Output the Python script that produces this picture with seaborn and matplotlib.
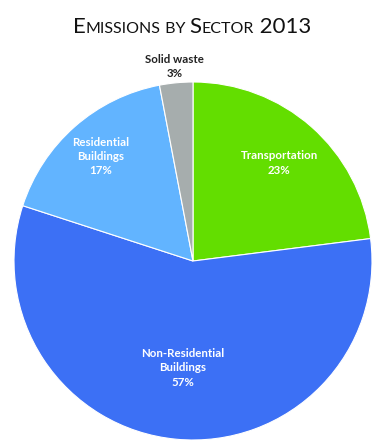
import numpy as np
import matplotlib
matplotlib.use("Agg")
import matplotlib.pyplot as plt
import seaborn as sns

# Data
sectors = ["Transportation", "Non-Residential\nBuildings", "Residential\nBuildings", "Solid waste"]
shares = [23, 57, 17, 3]
colors = ["#63DE00", "#3C70F5", "#62B4FF", "#A6ADAD"]
label_radius = [0.73, 0.60, 0.78, 1.09]
label_colors = ["white", "white", "white", "#222222"]

sns.set_theme(style="white")
plt.rcParams["font.family"] = ["Lato", "DejaVu Sans"]

fig = plt.figure(figsize=(3.84, 4.44), dpi=100)
ax = fig.add_axes([14 / 384, 4 / 444, 358 / 384, 358 / 444])

wedges, _ = ax.pie(shares, colors=colors, startangle=90, counterclock=False,
                   wedgeprops=dict(edgecolor="white", linewidth=0.8))
ax.set_xlim(-1, 1)
ax.set_ylim(-1, 1)
ax.set_aspect("equal")
ax.axis("off")

# labels inside / outside the slices
for w, name, pct, r, c in zip(wedges, sectors, shares, label_radius, label_colors):
    ang = np.deg2rad((w.theta1 + w.theta2) / 2)
    ax.text(r * np.cos(ang), r * np.sin(ang), f"{name}\n{pct}%", ha="center", va="center",
            fontsize=8.3, fontweight="bold", color=c, linespacing=1.35, clip_on=False)

# small caps title
pieces = [("E", 16), ("MISSIONS", 11.5), (" BY ", 11.5), ("S", 16), ("ECTOR", 11.5), (" 2013", 16)]
renderer = fig.canvas.get_renderer()
texts = []
x = 0
for s, size in pieces:
    t = fig.text(x, 1 - 33 / 444, s, fontsize=size, color="#111111", ha="left", va="baseline")
    w = t.get_window_extent(renderer).width / fig.bbox.width
    texts.append((t, w))
    x += w
start = 0.5 - x / 2
for t, w in texts:
    t.set_x(t.get_position()[0] + start)

fig.savefig("out.png", dpi=100)
